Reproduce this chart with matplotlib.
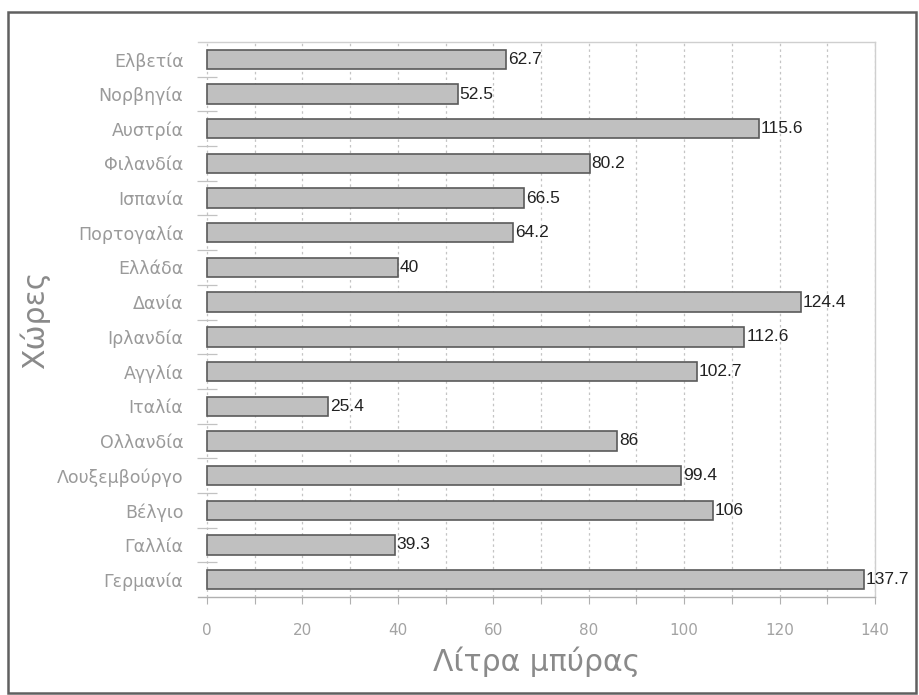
import matplotlib
matplotlib.use("Agg")
import matplotlib.pyplot as plt
from matplotlib.patches import Rectangle
import numpy as np

# Beer consumption per country (litres per capita)
countries = ["Ελβετία", "Νορβηγία", "Αυστρία", "Φιλανδία", "Ισπανία", "Πορτογαλία",
             "Ελλάδα", "Δανία", "Ιρλανδία", "Αγγλία", "Ιταλία", "Ολλανδία",
             "Λουξεμβούργο", "Βέλγιο", "Γαλλία", "Γερμανία"]
litres = [62.7, 52.5, 115.6, 80.2, 66.5, 64.2, 40, 124.4, 112.6, 102.7,
          25.4, 86, 99.4, 106, 39.3, 137.7]
value_labels = ["62.7", "52.5", "115.6", "80.2", "66.5", "64.2", "40", "124.4",
                "112.6", "102.7", "25.4", "86", "99.4", "106", "39.3", "137.7"]
x_ticks = [0, 20, 40, 60, 80, 100, 120, 140]

label_font = ["DejaVu Sans"]
grey_txt = "#8a8a8a"

fig = plt.figure(figsize=(9.2, 6.95), dpi=100)
ax = fig.add_axes([198 / 920, 1 - 597 / 695, (875 - 198) / 920, (597 - 42) / 695])

# separator ticks sit on the zero line; place the (hidden) left spine there first
ax.spines["left"].set_position(("data", 0))
ax.spines["left"].set_visible(False)

n = len(countries)
ypos = np.arange(n)
ax.barh(ypos, litres, height=0.56, color="#c0c0c0", edgecolor="#5a5a5a",
        linewidth=1.2, zorder=3)

for y, v, s in zip(ypos, litres, value_labels):
    ax.text(v + 0.4, y, s, ha="left", va="center", fontsize=12.5,
            family=["Liberation Sans", "DejaVu Sans"], color="#222222", zorder=4)

ax.set_xlim(-1.9, 140)
ax.set_ylim(n - 0.5, -0.5)

# x axis
ax.set_xticks(x_ticks)
ax.set_xticks(np.arange(0, 141, 10), minor=True)
ax.set_xticklabels([str(t) for t in x_ticks], fontsize=11, family=label_font)
ax.tick_params(axis="x", which="both", direction="out", length=5, width=0.8,
               color="#b0b0b0", labelcolor="#a3a3a3", pad=14)
ax.grid(axis="x", which="both", linestyle=(0, (2, 2.5)), color="#c4c4c4",
        linewidth=0.9, zorder=0)

# y axis: labels per country, small separator ticks between categories
ax.set_yticks(ypos)
ax.set_yticklabels(countries, fontsize=12.5, family=label_font)
ax.set_yticks(np.arange(n - 1) + 0.5, minor=True)
ax.tick_params(axis="y", which="major", length=0, pad=17, labelcolor="#9a9a9a")
ax.tick_params(axis="y", which="minor", direction="inout", length=15,
               width=0.9, color="#c2c2c2")

for side in ("top", "right"):
    ax.spines[side].set_color("#cfcfcf")
    ax.spines[side].set_linewidth(1.0)
ax.spines["bottom"].set_color("#b0b0b0")
ax.spines["bottom"].set_linewidth(1.0)

ax.set_xlabel("Λίτρα μπύρας", fontsize=21.5, color=grey_txt, family=label_font,
              labelpad=6)
ax.set_ylabel("Χώρες", fontsize=21.5, color=grey_txt, family=label_font)
ax.yaxis.set_label_coords(-(198 - 50) / 677, 0.5)

# outer frame around the whole figure
fig.patches.append(Rectangle((8 / 920, 1 - 693 / 695), (916 - 8) / 920, (693 - 12) / 695,
                             transform=fig.transFigure, fill=False,
                             edgecolor="#606060", linewidth=1.8))

fig.savefig("out.png", dpi=100, facecolor="white")
